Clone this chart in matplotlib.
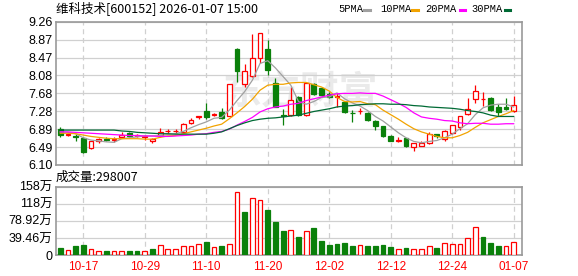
import matplotlib

matplotlib.use("Agg")
import matplotlib.pyplot as plt  # noqa: E402
import numpy as np  # noqa: E402
from matplotlib.lines import Line2D  # noqa: E402

TITLE = "维科技术[600152] 2026-01-07 15:00"
LAST_VOLUME = 298007

dates = [
    "10-14", "10-15", "10-16", "10-17", "10-20", "10-21", "10-22", "10-23", "10-24", "10-27",
    "10-28", "10-29", "10-30", "10-31", "11-03", "11-04", "11-05", "11-06", "11-07", "11-10",
    "11-11", "11-12", "11-13", "11-14", "11-17", "11-18", "11-19", "11-20", "11-21", "11-24",
    "11-25", "11-26", "11-27", "11-28", "12-01", "12-02", "12-03", "12-04", "12-05", "12-08",
    "12-09", "12-10", "12-11", "12-12", "12-15", "12-16", "12-17", "12-18", "12-19", "12-22",
    "12-23", "12-24", "12-25", "12-26", "12-29", "12-30", "12-31", "01-05", "01-06", "01-07",
]
tick_dates = ["10-17", "10-29", "11-10", "11-20", "12-02", "12-12", "12-24", "01-07"]

open_ = [
    6.89, 6.77, 6.75, 6.70, 6.47, 6.64, 6.67, 6.66, 6.72, 6.80,
    6.74, 6.72, 6.62, 6.76, 6.84, 6.84, 6.83, 7.02, 7.15, 7.29,
    7.21, 7.27, 7.19, 8.66, 7.89, 8.06, 8.47, 8.66, 7.90, 7.21,
    7.20, 7.60, 7.21, 7.89, 7.80, 7.67, 7.61, 7.50, 7.25, 7.29,
    7.25, 7.08, 6.96, 6.75, 6.64, 6.69, 6.50, 6.53, 6.58, 6.78,
    6.67, 6.80, 6.93, 7.22, 7.55, 7.55, 7.57, 7.37, 7.37, 7.28,
]
high = [
    6.93, 6.81, 6.79, 6.71, 6.63, 6.70, 6.72, 6.72, 6.82, 6.83,
    6.78, 6.76, 6.70, 6.91, 6.90, 6.89, 7.03, 7.13, 7.19, 7.46,
    7.25, 7.35, 7.89, 8.67, 8.32, 8.99, 9.02, 8.86, 8.01, 7.33,
    7.82, 7.62, 7.93, 7.91, 7.83, 7.71, 7.68, 7.52, 7.31, 7.35,
    7.26, 7.10, 6.97, 6.76, 6.71, 6.70, 6.59, 6.63, 6.82, 6.79,
    6.88, 6.99, 7.19, 7.58, 7.86, 7.71, 7.60, 7.44, 7.57, 7.62,
]
low = [
    6.71, 6.74, 6.63, 6.37, 6.46, 6.58, 6.62, 6.60, 6.71, 6.72,
    6.72, 6.66, 6.58, 6.71, 6.80, 6.81, 6.82, 7.01, 7.12, 7.11,
    7.19, 7.11, 7.17, 7.92, 7.81, 8.04, 8.35, 8.08, 7.37, 6.98,
    7.19, 7.18, 7.19, 7.64, 7.62, 7.57, 7.38, 7.24, 7.05, 7.22,
    7.08, 6.88, 6.72, 6.62, 6.61, 6.50, 6.41, 6.51, 6.57, 6.69,
    6.64, 6.79, 6.88, 7.21, 7.46, 7.40, 7.30, 7.17, 7.31, 7.27,
]
close = [
    6.76, 6.78, 6.71, 6.39, 6.62, 6.67, 6.65, 6.68, 6.77, 6.75,
    6.76, 6.73, 6.67, 6.83, 6.85, 6.85, 7.00, 7.09, 7.17, 7.15,
    7.22, 7.14, 7.89, 8.18, 8.17, 8.47, 9.00, 8.19, 7.38, 7.19,
    7.53, 7.20, 7.91, 7.66, 7.65, 7.60, 7.62, 7.26, 7.24, 7.30,
    7.09, 6.96, 6.74, 6.63, 6.65, 6.51, 6.58, 6.58, 6.78, 6.73,
    6.84, 6.98, 7.18, 7.33, 7.74, 7.56, 7.31, 7.27, 7.33, 7.42,
]

ma5 = [
    6.83, 6.82, 6.79, 6.70, 6.65, 6.63, 6.61, 6.60, 6.68, 6.70,
    6.72, 6.74, 6.74, 6.75, 6.77, 6.79, 6.84, 6.92, 6.99, 7.05,
    7.13, 7.15, 7.31, 7.52, 7.72, 7.97, 8.34, 8.40, 8.24, 8.05,
    7.86, 7.50, 7.44, 7.50, 7.59, 7.60, 7.69, 7.56, 7.47, 7.40,
    7.30, 7.17, 7.07, 6.94, 6.81, 6.70, 6.62, 6.59, 6.62, 6.64,
    6.70, 6.78, 6.90, 7.01, 7.21, 7.36, 7.42, 7.44, 7.44, 7.38,
]
ma10 = [
    6.80, 6.80, 6.79, 6.76, 6.73, 6.71, 6.69, 6.68, 6.68, 6.68,
    6.68, 6.67, 6.67, 6.71, 6.74, 6.75, 6.79, 6.83, 6.87, 6.91,
    6.96, 7.00, 7.12, 7.25, 7.39, 7.55, 7.75, 7.86, 7.88, 7.88,
    7.91, 7.92, 7.92, 7.87, 7.82, 7.73, 7.59, 7.50, 7.49, 7.50,
    7.45, 7.43, 7.31, 7.21, 7.11, 7.00, 6.90, 6.83, 6.78, 6.73,
    6.70, 6.70, 6.75, 6.82, 6.93, 7.03, 7.10, 7.17, 7.23, 7.30,
]
ma20 = [
    6.83, 6.83, 6.82, 6.81, 6.80, 6.79, 6.78, 6.77, 6.76, 6.75,
    6.75, 6.74, 6.74, 6.73, 6.73, 6.74, 6.75, 6.76, 6.78, 6.79,
    6.82, 6.84, 6.89, 6.98, 7.06, 7.15, 7.27, 7.34, 7.38, 7.40,
    7.44, 7.46, 7.52, 7.56, 7.60, 7.64, 7.67, 7.68, 7.68, 7.69,
    7.68, 7.68, 7.62, 7.54, 7.46, 7.37, 7.25, 7.16, 7.13, 7.11,
    7.08, 7.07, 7.03, 7.01, 7.02, 7.02, 7.00, 7.00, 7.01, 7.01,
]
ma30 = [
    6.87, 6.87, 6.87, 6.87, 6.87, 6.87, 6.87, 6.87, 6.85, 6.84,
    6.82, 6.81, 6.80, 6.79, 6.79, 6.78, 6.78, 6.78, 6.78, 6.78,
    6.80, 6.83, 6.90, 6.97, 7.03, 7.08, 7.11, 7.13, 7.14, 7.16,
    7.18, 7.20, 7.24, 7.28, 7.31, 7.34, 7.38, 7.40, 7.41, 7.43,
    7.44, 7.45, 7.45, 7.44, 7.44, 7.43, 7.41, 7.40, 7.38, 7.37,
    7.36, 7.35, 7.33, 7.30, 7.28, 7.25, 7.20, 7.17, 7.17, 7.17,
]

# volume in 万 (10k)
volume = [
    16, 11, 21, 23, 15, 8.5, 9, 8.5, 8.5, 9,
    9, 8.5, 14, 22, 13, 13, 20, 20, 25, 30,
    18, 21, 25, 146, 99, 131, 126, 104, 76, 55,
    57, 41.6, 55, 62, 32, 23, 25, 28, 21, 22,
    21, 21, 23, 18.5, 13, 16, 13, 13, 20, 16,
    27, 25, 25, 38.5, 64, 41.6, 28, 21, 20, 29.8,
]
vol_up = [
    0, 1, 0, 0, 1, 1, 0, 1, 1, 0,
    0, 1, 0, 1, 1, 1, 1, 1, 1, 0,
    1, 0, 1, 1, 0, 1, 1, 0, 0, 0,
    1, 0, 1, 0, 0, 0, 0, 0, 0, 1,
    0, 0, 0, 0, 1, 0, 1, 1, 1, 0,
    1, 1, 1, 1, 1, 0, 0, 0, 1, 1,
]

price_range = (6.10, 9.26)
price_labels = ["6.10", "6.49", "6.89", "7.28", "7.68", "8.08", "8.47", "8.87", "9.26"]
vol_max = 157.84
vol_labels = ["0", "39.46万", "78.92万", "118万", "158万"]

UP = "#FF0000"
DOWN = "#0A800A"
MA_COLORS = {"5PMA": "#A0A0A0", "10PMA": "#F2A300", "20PMA": "#FF00FF", "30PMA": "#006A35"}
FRAME = "#999999"
GRID = "#D0D0D0"
NUM_FONT = ["Liberation Sans", "Noto Sans CJK SC"]
CJK_FONT = ["Noto Sans CJK SC", "DejaVu Sans"]

W, H = 578, 276


def fx(x):
    return x / W


def fy(y):
    return 1 - y / H


def style_axes(ax):
    for spine in ax.spines.values():
        spine.set_color(FRAME)
        spine.set_linewidth(1.2)
    ax.tick_params(length=0)
    ax.grid(axis="y", color=GRID, linewidth=0.9, linestyle="-")
    ax.grid(axis="x", color=GRID, linewidth=0.9, linestyle=(0, (4, 3)))
    ax.set_axisbelow(True)


o = np.array(open_)
c = np.array(close)
x = np.arange(len(c))
up = c >= o
tick_idx = [dates.index(d) for d in tick_dates]
xlim = (-0.55, len(c) + 0.08)

fig = plt.figure(figsize=(W / 100, H / 100), dpi=100)
ax = fig.add_axes([fx(56), fy(165), fx(466), 143.3 / H])
axv = fig.add_axes([fx(56), fy(255), fx(466), 68.3 / H])

# watermark
ax.text(0.525, 0.5, "东方财富", transform=ax.transAxes, ha="center", va="center",
        fontsize=28, color="#EAEAEA", fontweight="bold", family=CJK_FONT, zorder=0)

# candles
body_lo = np.minimum(o, c)
body_hi = np.maximum(o, c)
body_h = np.maximum(body_hi - body_lo, 0.004)
wick_colors = [UP if u else DOWN for u in up]
ax.vlines(x, body_hi, high, colors=wick_colors, linewidth=0.9, zorder=2)
ax.vlines(x, low, body_lo, colors=wick_colors, linewidth=0.9, zorder=2)
ax.bar(x[up], body_h[up], bottom=body_lo[up], width=0.62, facecolor="white",
       edgecolor=UP, linewidth=0.9, zorder=3)
ax.bar(x[~up], body_h[~up], bottom=body_lo[~up], width=0.62, facecolor=DOWN,
       edgecolor=DOWN, linewidth=0.9, zorder=3)

for name, series in zip(MA_COLORS, [ma5, ma10, ma20, ma30]):
    ax.plot(x, series, color=MA_COLORS[name], linewidth=0.9, zorder=4)

ax.set_xlim(*xlim)
ax.set_ylim(*price_range)
ax.set_yticks(np.linspace(price_range[0], price_range[1], len(price_labels)))
ax.set_yticklabels(price_labels, family=NUM_FONT, fontsize=9)
ax.set_xticks(tick_idx)
ax.set_xticklabels([])
ax.tick_params(axis="y", pad=2.5)
style_axes(ax)

# volume
v = np.array(volume, dtype=float)
vu = np.array(vol_up, dtype=bool)
axv.bar(x[vu], v[vu], width=0.62, facecolor="white", edgecolor=UP, linewidth=0.9, zorder=3)
axv.bar(x[~vu], v[~vu], width=0.62, facecolor=DOWN, edgecolor=DOWN, linewidth=0.9, zorder=3)
axv.set_xlim(*xlim)
axv.set_ylim(0, vol_max)
axv.set_yticks(np.linspace(0, vol_max, len(vol_labels)))
axv.set_yticklabels(vol_labels, family=NUM_FONT, fontsize=9)
axv.set_xticks(tick_idx)
axv.set_xticklabels(tick_dates, family=NUM_FONT, fontsize=8.5, color=UP)
axv.tick_params(axis="y", pad=2.5)
axv.tick_params(axis="x", pad=4)
style_axes(axv)

# header texts
fig.text(fx(56), fy(8.5), TITLE, ha="left", va="center", fontsize=9, family=CJK_FONT)
fig.text(fx(56), fy(177), f"成交量:{LAST_VOLUME}", ha="left", va="center",
         fontsize=9, family=CJK_FONT)

legend_pos = [(338, 364.5), (380, 412), (425.5, 459.5), (471, 504.5)]
for (tx, mx), (name, color) in zip(legend_pos, MA_COLORS.items()):
    fig.text(fx(tx), fy(9), name, ha="left", va="center", fontsize=7.5,
             family=["Liberation Mono"])
    fig.add_artist(Line2D([fx(mx), fx(mx + 5.5)], [fy(9.5), fy(9.5)],
                          transform=fig.transFigure, color=color, linewidth=2.2))

fig.savefig("out.png", dpi=100)
